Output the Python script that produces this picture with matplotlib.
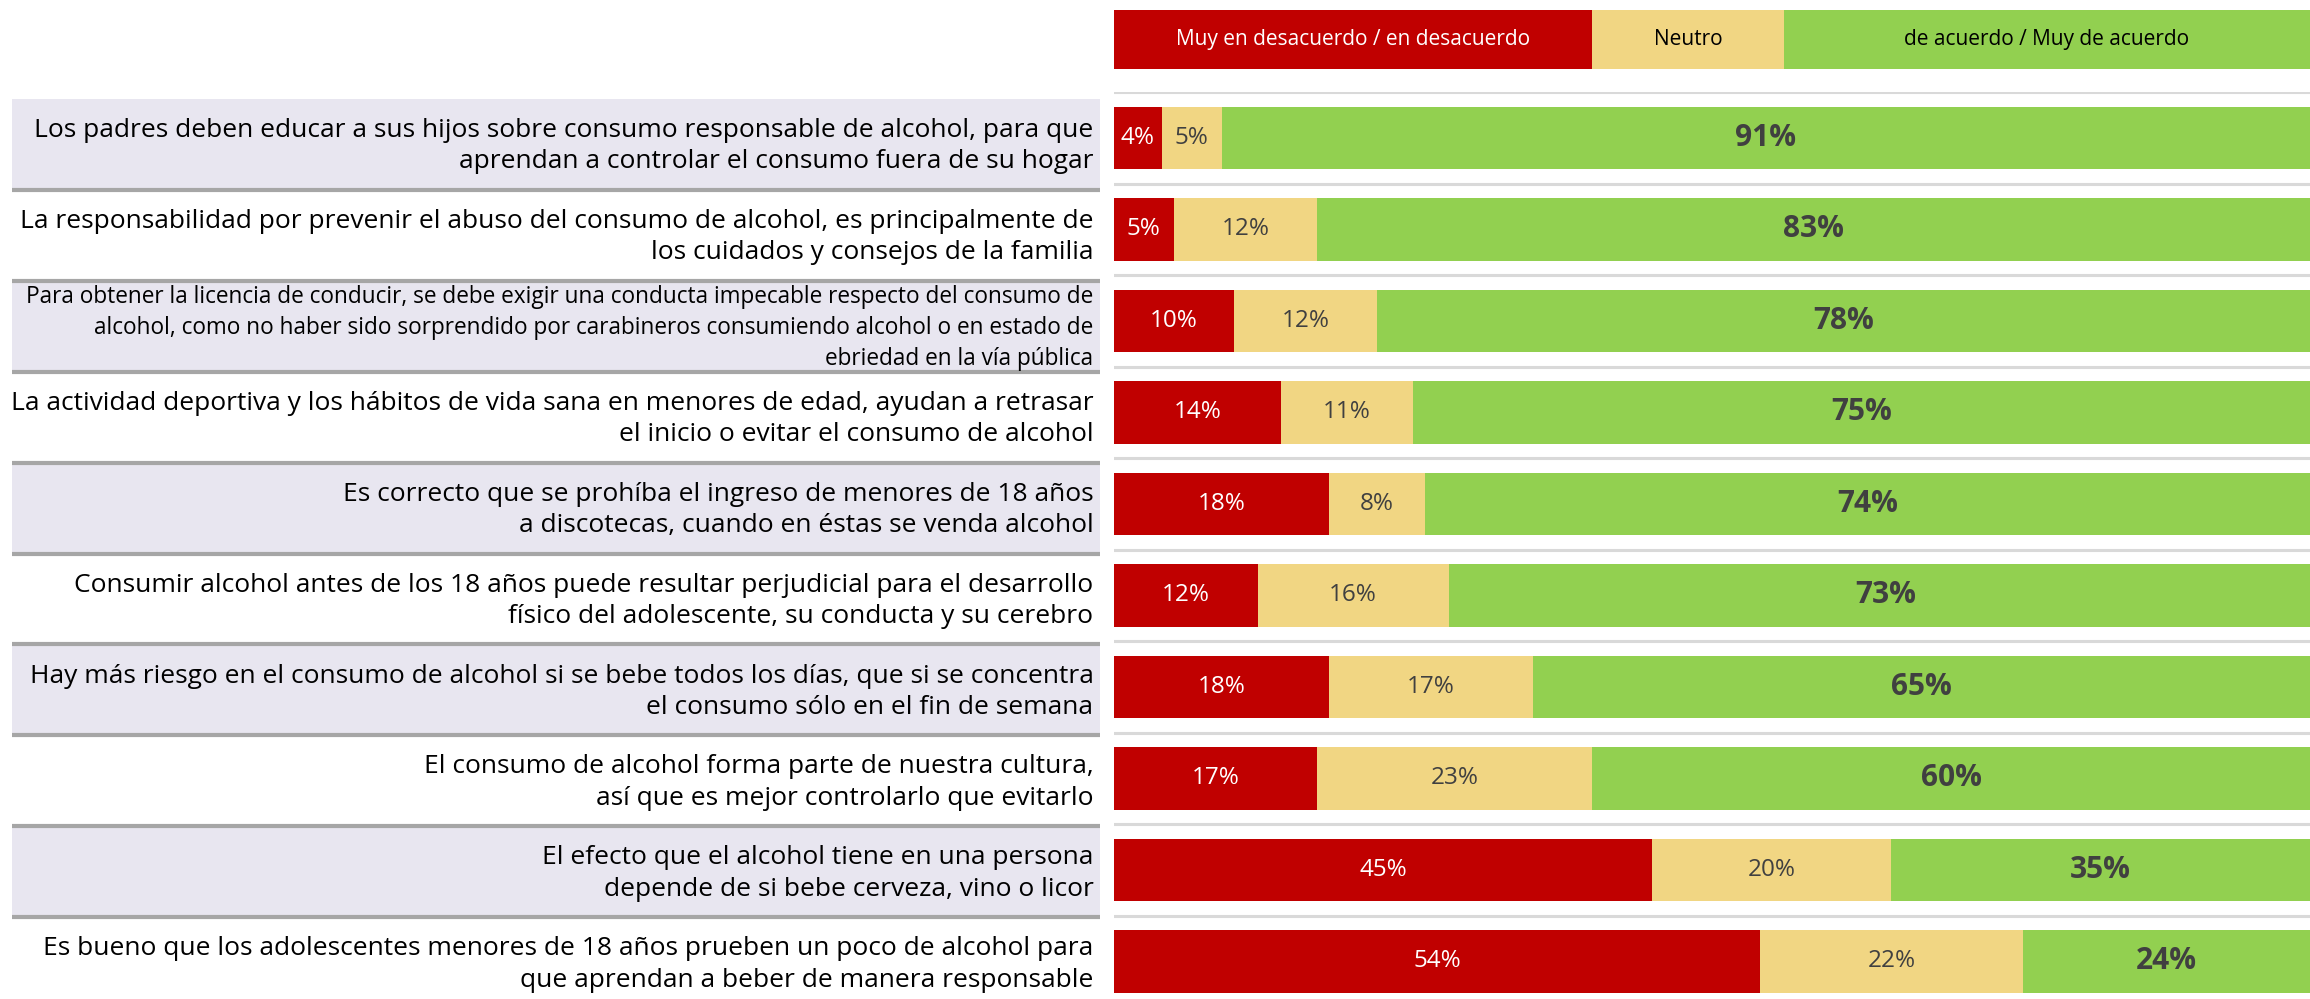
import matplotlib.pyplot as plt
from matplotlib.patches import Rectangle

plt.rcParams['font.family'] = ['Open Sans', 'DejaVu Sans']

statements = [
    'Los padres deben educar a sus hijos sobre consumo responsable de alcohol, para que\naprendan a controlar el consumo fuera de su hogar',
    'La responsabilidad por prevenir el abuso del consumo de alcohol, es principalmente de\nlos cuidados y consejos de la familia',
    'Para obtener la licencia de conducir, se debe exigir una conducta impecable respecto del consumo de\nalcohol, como no haber sido sorprendido por carabineros consumiendo alcohol o en estado de\nebriedad en la vía pública',
    'La actividad deportiva y los hábitos de vida sana en menores de edad, ayudan a retrasar\nel inicio o evitar el consumo de alcohol',
    'Es correcto que se prohíba el ingreso de menores de 18 años\na discotecas, cuando en éstas se venda alcohol',
    'Consumir alcohol antes de los 18 años puede resultar perjudicial para el desarrollo\nfísico del adolescente, su conducta y su cerebro',
    'Hay más riesgo en el consumo de alcohol si se bebe todos los días, que si se concentra\nel consumo sólo en el fin de semana',
    'El consumo de alcohol forma parte de nuestra cultura,\nasí que es mejor controlarlo que evitarlo',
    'El efecto que el alcohol tiene en una persona\ndepende de si bebe cerveza, vino o licor',
    'Es bueno que los adolescentes menores de 18 años prueben un poco de alcohol para\nque aprendan a beber de manera responsable',
]
desacuerdo = [4, 5, 10, 14, 18, 12, 18, 17, 45, 54]
neutro = [5, 12, 12, 11, 8, 16, 17, 23, 20, 22]
acuerdo = [91, 83, 78, 75, 74, 73, 65, 60, 35, 24]

legend_labels = ['Muy en desacuerdo / en desacuerdo', 'Neutro', 'de acuerdo / Muy de acuerdo']
legend_widths = [40, 16, 44]

RED = '#C00000'
YEL = '#F1D683'
GRN = '#92D050'
TXT = '#404040'

W, H = 2310, 999
fig = plt.figure(figsize=(W / 100, H / 100), dpi=100)
n = len(statements)

# bars panel: row 0 centre at y=138px, pitch 91.5px
pitch = 91.5
top = 138 - pitch / 2
bot = top + pitch * n
x0 = 1114
ax = fig.add_axes([x0 / W, (H - bot) / H, (W - x0) / W, (bot - top) / H])
rows = list(range(n))
ax.barh(rows, desacuerdo, height=0.68, color=RED)
ax.barh(rows, neutro, left=desacuerdo, height=0.68, color=YEL)
left2 = [a + b for a, b in zip(desacuerdo, neutro)]
ax.barh(rows, acuerdo, left=left2, height=0.68, color=GRN)
for i in rows:
    ax.axhline(i - 0.5, color='#D9D9D9', lw=2.2)
    ax.text(desacuerdo[i] / 2, i, f'{desacuerdo[i]}%', ha='center', va='center',
            color='white', fontsize=17.5)
    ax.text(desacuerdo[i] + neutro[i] / 2, i, f'{neutro[i]}%', ha='center', va='center',
            color=TXT, fontsize=17.5)
    ax.text(left2[i] + acuerdo[i] / 2, i, f'{acuerdo[i]}%', ha='center', va='center',
            color=TXT, fontsize=21.5, fontweight='bold')
ax.set_xlim(0, 100)
ax.set_ylim(n - 0.5, -0.5)
ax.axis('off')

# header legend
hx = fig.add_axes([x0 / W, (H - 69) / H, (W - x0) / W, 59 / H])
lefts = [0, legend_widths[0], legend_widths[0] + legend_widths[1]]
hx.barh([0, 0, 0], legend_widths, left=lefts, height=1, color=[RED, YEL, GRN])
for lab, l, w, c in zip(legend_labels, lefts, legend_widths, ['white', 'black', 'black']):
    hx.text(l + w / 2, 0, lab, ha='center', va='center', color=c, fontsize=15)
hx.set_xlim(0, 100)
hx.set_ylim(-0.5, 0.5)
hx.axis('off')

# statement panel: boxes 99px..., pitch 90.9px
lp = 90.9
ltop = 99
lbot = ltop + lp * n
lx0, lx1 = 12, 1100
lax = fig.add_axes([lx0 / W, (H - lbot) / H, (lx1 - lx0) / W, (lbot - ltop) / H])
for i, s in enumerate(statements):
    if i % 2 == 0:
        lax.add_patch(Rectangle((0, i - 0.5), 1, 1, color='#E8E6F0', lw=0))
    lax.plot([0, 1], [i + 0.5, i + 0.5], color='#A6A6A6', lw=3, solid_capstyle='butt')
    fs = 16.3 if i == 2 else 19
    lax.text(0.994, i + 0.02, s, ha='right', va='center', fontsize=fs,
             linespacing=1.37 if i == 2 else 1.33, color='black')
lax.set_xlim(0, 1)
lax.set_ylim(n - 0.5, -0.5)
lax.axis('off')

fig.savefig('out.png', dpi=100)
